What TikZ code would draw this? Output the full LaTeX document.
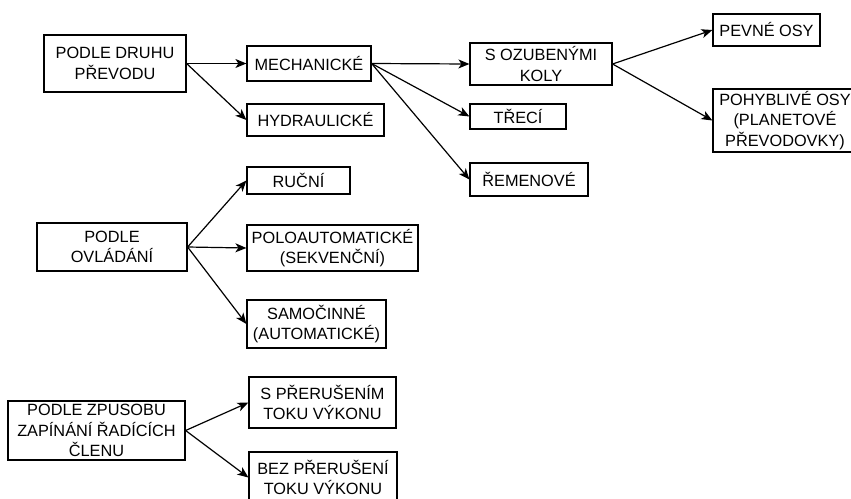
\documentclass[tikz,border=0pt]{standalone}
\usepackage{fontspec}
\setmainfont{Liberation Sans}
\usetikzlibrary{arrows.meta}

\begin{document}
\begin{tikzpicture}[x=1pt, y=-1pt, % Coordenadas en pixeles, eje y hacia abajo
    caja/.style={draw, line width=1.2pt, inner sep=0pt, align=center,
        font=\fontsize{16.3}{20.5}\selectfont},
    flecha/.style={->, >={Stealth[length=11pt,width=9pt,inset=3pt]}, line width=1.2pt}]

    % Marco fijo del dibujo
    \useasboundingbox (0,0) rectangle (851,498);

    % 1. Clasificacion segun el tipo de transmision
    \node[caja, minimum width=142, minimum height=57] (druh) at (115,63.5) {PODLE DRUHU\\PŘEVODU};
    \node[caja, minimum width=124, minimum height=35] (mech) at (309,63.5) {MECHANICKÉ};
    \node[caja, minimum width=137, minimum height=32] (hydr) at (315.5,120) {HYDRAULICKÉ};

    % Subtipos mecanicos
    \node[caja, minimum width=142, minimum height=42] (ozub) at (541,64) {S OZUBENÝMI\\KOLY};
    \node[caja, minimum width=96, minimum height=25] (treci) at (518,116.5) {TŘECÍ};
    \node[caja, minimum width=118, minimum height=33] (remen) at (529,179.5) {ŘEMENOVÉ};
    \node[caja, minimum width=107, minimum height=32] (pevne) at (766.5,30) {PEVNÉ OSY};
    \node[caja, minimum width=144, minimum height=63] (pohyb) at (785,120.5) {POHYBLIVÉ OSY\\(PLANETOVÉ\\PŘEVODOVKY)};

    \draw[flecha] (druh.east) -- (mech.west);
    \draw[flecha] (druh.east) -- (hydr.west);
    \draw[flecha] (mech.east) -- (ozub.west);
    \draw[flecha] (mech.east) -- (treci.west);
    \draw[flecha] (mech.east) -- (remen.west);
    \draw[flecha] (ozub.east) -- (pevne.west);
    \draw[flecha] (ozub.east) -- (pohyb.west);

    % 2. Clasificacion segun el mando
    \node[caja, minimum width=150, minimum height=48] (ovl) at (112,247) {PODLE\\OVLÁDÁNÍ};
    \node[caja, minimum width=103, minimum height=27] (rucni) at (298.5,180.5) {RUČNÍ};
    \node[caja, minimum width=171, minimum height=46] (polo) at (332.5,248) {POLOAUTOMATICKÉ\\(SEKVENČNÍ)};
    \node[caja, minimum width=139, minimum height=48] (samo) at (316.5,324) {SAMOČINNÉ\\(AUTOMATICKÉ)};

    \draw[flecha] (ovl.east) -- (rucni.west);
    \draw[flecha] (ovl.east) -- (polo.west);
    \draw[flecha] (ovl.east) -- (samo.west);

    % 3. Clasificacion segun el acoplamiento
    \node[caja, minimum width=177, minimum height=59] (zpus) at (96.5,430.5) {PODLE ZPUSOBU\\ZAPÍNÁNÍ ŘADÍCÍCH\\ČLENU};
    \node[caja, minimum width=147, minimum height=51] (spr) at (322.5,402.5) {S PŘERUŠENÍM\\TOKU VÝKONU};
    \node[caja, minimum width=148, minimum height=51] (bez) at (323,477.5) {BEZ PŘERUŠENÍ\\TOKU VÝKONU};

    \draw[flecha] (zpus.east) -- (spr.west);
    \draw[flecha] (zpus.east) -- (bez.west);

\end{tikzpicture}
\end{document}
